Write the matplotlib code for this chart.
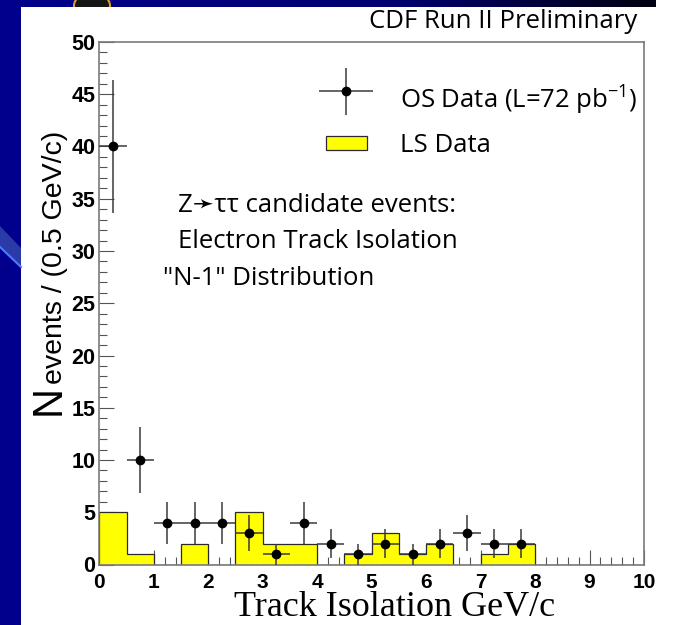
import numpy as np
import matplotlib
matplotlib.use("Agg")
import matplotlib.pyplot as plt
from matplotlib.patches import Rectangle, Polygon, Ellipse, StepPatch
from matplotlib.legend_handler import HandlerErrorbar, HandlerPatch
from matplotlib.container import ErrorbarContainer
from matplotlib.colors import LinearSegmentedColormap
from matplotlib.ticker import MultipleLocator

# ---- data: track isolation in 0.5 GeV/c bins ----
bin_edges = [0.0, 0.5, 1.0, 1.5, 2.0, 2.5, 3.0, 3.5, 4.0, 4.5, 5.0,
             5.5, 6.0, 6.5, 7.0, 7.5, 8.0, 8.5, 9.0, 9.5, 10.0]
# like-sign events per bin
ls_counts = [5, 1, 0, 2, 0, 5, 2, 2, 0, 1, 3, 1, 2, 0, 1, 2, 0, 0, 0, 0]
# opposite-sign events (bin centres with non-zero content)
os_centers = [0.25, 0.75, 1.25, 1.75, 2.25, 2.75, 3.25, 3.75,
              4.25, 4.75, 5.25, 5.75, 6.25, 6.75, 7.25, 7.75]
os_counts = [40, 10, 4, 4, 4, 3, 1, 4, 2, 1, 2, 1, 2, 3, 2, 2]
half_bin = 0.25

x_ticks = [0, 1, 2, 3, 4, 5, 6, 7, 8, 9, 10]
y_ticks = [0, 5, 10, 15, 20, 25, 30, 35, 40, 45, 50]

W, H = 673, 625
fig = plt.figure(figsize=(W / 100, H / 100), dpi=100)
fig.patch.set_facecolor("white")


def fx(px):
    return px / W


def fy(py):
    return 1 - py / H


SANS = ["Open Sans", "DejaVu Sans"]
NAVY = "#00008c"
plt.rcParams["mathtext.fontset"] = "custom"
plt.rcParams["mathtext.rm"] = "Open Sans"
plt.rcParams["mathtext.it"] = "Open Sans:italic"

# ---- slide decoration around the plot ----
fig.add_artist(Rectangle((0, 0), fx(21), 1, transform=fig.transFigure,
                         facecolor=NAVY, edgecolor="none", zorder=0))
fig.add_artist(Polygon([(fx(0), fy(226)), (fx(21), fy(248)), (fx(21), fy(267)),
                        (fx(0), fy(247))], closed=True, transform=fig.transFigure,
                       facecolor="#2a3aa6", edgecolor="none", zorder=1))
fig.add_artist(plt.Line2D([fx(0), fx(21)], [fy(247), fy(267)],
                          transform=fig.transFigure, color="#4f78ff", lw=1.5, zorder=2))
band = fig.add_axes([0, fy(7), fx(656), 7 / H])
grad = np.linspace(0, 1, 256)[None, :]
band_cmap = LinearSegmentedColormap.from_list(
    "band", [(0, NAVY), (0.6, "#000070"), (1.0, "#000010")])
band.imshow(grad, aspect="auto", cmap=band_cmap, extent=[0, 1, 0, 1])
band.set_axis_off()
band.add_patch(Ellipse((fx(92) / fx(656), 0.2), 36 / 656, 3.6,
                       facecolor="#151515", edgecolor="#d89a30", lw=1.5,
                       transform=band.transAxes, clip_on=True))

# ---- main axes ----
ax = fig.add_axes([fx(99.3), fy(564.5), fx(644) - fx(99.3), fy(42) - fy(564.5)])
ax.set_xlim(0, 10)
ax.set_ylim(0, 50)

ax.stairs(ls_counts, bin_edges, fill=True, facecolor="#ffff00",
          edgecolor="#2a2a2a", lw=0.9, label="LS Data", zorder=2)
ax.errorbar(os_centers, os_counts, xerr=half_bin, yerr=np.sqrt(os_counts),
            fmt="o", color="black", ms=6, ecolor="#3a3a3a", elinewidth=1.1,
            capsize=0, zorder=3, label="OS Data (L=72 pb$^{-1}$)")

for s in ax.spines.values():
    s.set_color("#7a7a7a")
    s.set_linewidth(1.2)

ax.xaxis.set_minor_locator(MultipleLocator(0.2))
ax.yaxis.set_minor_locator(MultipleLocator(1))
ax.tick_params(which="both", direction="in", top=False, right=False,
               color="#555555", width=0.8)
ax.tick_params(which="major", length=11)
ax.tick_params(which="minor", length=5.8)
ax.tick_params(axis="y", which="major", pad=3)
ax.tick_params(axis="x", which="major", pad=6)
tick_font = {"family": "Liberation Sans", "weight": "bold"}
ax.set_xticks(x_ticks, labels=[str(v) for v in x_ticks], fontsize=15, **tick_font)
ax.set_yticks(y_ticks, labels=[str(v) for v in y_ticks], fontsize=15.5, **tick_font)

# axis titles
fig.text(fx(395), fy(616), "Track Isolation GeV/c", family="Liberation Serif",
         fontsize=26, ha="center", va="baseline")
fig.text(fx(60), fy(415), "N", family="Liberation Sans", fontsize=30,
         rotation=90, rotation_mode="anchor", ha="left", va="baseline")
fig.text(fx(61.5), fy(384), "events / (0.5 GeV/c)", family="Liberation Sans",
         fontsize=20.5, rotation=90, rotation_mode="anchor", ha="left", va="baseline")

# header and description
fig.text(fx(637), fy(28), "CDF Run II Preliminary", family=SANS, fontsize=18.5,
         ha="right", va="baseline")
desc = [("Z\u279b\u03c4\u03c4 candidate events:", 178, 212),
        ("Electron Track Isolation", 178, 248),
        ("\"N-1\" Distribution", 163, 285)]
for txt, x0, y0 in desc:
    fig.text(fx(x0), fy(y0), txt, family=SANS, fontsize=18.5, ha="left", va="baseline")


# ---- legend ----
class ShiftedErrorbar(HandlerErrorbar):
    def __init__(self, shift=0.0, **kw):
        super().__init__(**kw)
        self._shift = shift

    def create_artists(self, legend, orig_handle, xdescent, ydescent, width,
                       height, fontsize, trans):
        return super().create_artists(legend, orig_handle, xdescent,
                                      ydescent - 2 * self._shift, width, height,
                                      fontsize, trans)


def ls_box(legend, orig_handle, xdescent, ydescent, width, height, fontsize):
    cx = -xdescent + width / 2
    cy = -ydescent + height / 2
    w, h = 29.5, 10.0
    return Rectangle((cx - w / 2, cy - h / 2), w, h)


handles, labels = ax.get_legend_handles_labels()
order = [labels.index("OS Data (L=72 pb$^{-1}$)"), labels.index("LS Data")]
leg_size = 18.5
leg = ax.legend([handles[i] for i in order], [labels[i] for i in order],
                loc="upper left", bbox_to_anchor=(fx(319), fy(84)),
                bbox_transform=fig.transFigure, frameon=False, borderpad=0,
                borderaxespad=0, prop={"family": SANS, "size": leg_size},
                handlelength=39 / leg_size, handletextpad=19 / leg_size,
                labelspacing=0.6, numpoints=1,
                handler_map={ErrorbarContainer: ShiftedErrorbar(
                    shift=6, xerr_size=19.5 / leg_size, yerr_size=17 / leg_size),
                    StepPatch: HandlerPatch(patch_func=ls_box)})

fig.savefig("out.png", dpi=100, facecolor="white")
